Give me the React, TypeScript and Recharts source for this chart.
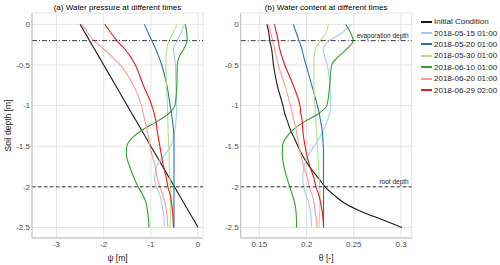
import React from 'react';
import { LineChart, Line, XAxis, YAxis, CartesianGrid, ReferenceLine } from 'recharts';

const depth = [0, -0.1, -0.2, -0.3, -0.4, -0.5, -0.75, -1, -1.1, -1.2, -1.3, -1.4, -1.5, -1.6, -1.75, -1.9, -2, -2.1, -2.2, -2.3, -2.4, -2.5];

const seriesNames = ['Initial Condition', '2018-05-15 01:00', '2018-05-20 01:00', '2018-05-30 01:00', '2018-06-10 01:00', '2018-06-20 01:00', '2018-06-29 02:00'];
const seriesColors = ['#1a1a1a', '#a6cee3', '#1f78b4', '#b2df8a', '#33a02c', '#fb9a99', '#e31a1c'];

// Water pressure psi [m]
const psiInit = [-2.5, -2.4, -2.3, -2.2, -2.1, -2.0, -1.75, -1.5, -1.4, -1.3, -1.2, -1.1, -1.0, -0.9, -0.75, -0.6, -0.5, -0.4, -0.3, -0.2, -0.1, 0];
const psi0515 = [-0.29, -0.36, -0.44, -0.52, -0.5, -0.48, -0.47, -0.45, -0.46, -0.47, -0.49, -0.52, -0.58, -0.7, -0.88, -0.92, -0.88, -0.81, -0.77, -0.74, -0.72, -0.72];
const psi0520 = [-1.14, -1.06, -0.98, -0.9, -0.83, -0.77, -0.66, -0.59, -0.56, -0.54, -0.52, -0.51, -0.51, -0.51, -0.51, -0.51, -0.51, -0.51, -0.51, -0.51, -0.51, -0.51];
const psi0530 = [-0.45, -0.53, -0.61, -0.66, -0.68, -0.68, -0.67, -0.65, -0.645, -0.64, -0.635, -0.63, -0.62, -0.615, -0.61, -0.595, -0.585, -0.58, -0.58, -0.58, -0.585, -0.59];
const psi0610 = [-0.27, -0.24, -0.23, -0.3, -0.4, -0.44, -0.45, -0.49, -0.63, -0.88, -1.18, -1.4, -1.51, -1.52, -1.45, -1.35, -1.27, -1.17, -1.1, -1.07, -1.05, -1.04];
const psi0620 = [-2.46, -2.34, -2.21, -2.01, -1.82, -1.65, -1.37, -1.2, -1.16, -1.12, -1.08, -1.05, -1.02, -0.98, -0.91, -0.86, -0.81, -0.75, -0.7, -0.67, -0.65, -0.64];
const psi0629 = [-1.98, -1.85, -1.72, -1.56, -1.43, -1.33, -1.16, -0.98, -0.93, -0.89, -0.87, -0.84, -0.81, -0.78, -0.73, -0.67, -0.64, -0.59, -0.56, -0.54, -0.53, -0.52];

// Water content theta [-]
const thInit = [0.158, 0.16, 0.161, 0.163, 0.164, 0.165, 0.169, 0.175, 0.177, 0.18, 0.183, 0.187, 0.191, 0.195, 0.203, 0.213, 0.2195, 0.229, 0.24, 0.257, 0.279, 0.301];
const th0515 = [0.2477, 0.238, 0.2247, 0.2175, 0.2195, 0.2219, 0.2247, 0.2255, 0.2245, 0.2215, 0.218, 0.2135, 0.208, 0.2025, 0.1975, 0.196, 0.197, 0.1995, 0.2025, 0.204, 0.205, 0.2054];
const th0520 = [0.186, 0.189, 0.192, 0.195, 0.197, 0.1995, 0.2055, 0.2115, 0.2135, 0.215, 0.2165, 0.2172, 0.2177, 0.218, 0.218, 0.218, 0.218, 0.218, 0.218, 0.218, 0.218, 0.218];
const th0530 = [0.223, 0.221, 0.2145, 0.2095, 0.208, 0.2078, 0.2078, 0.2089, 0.2095, 0.21, 0.2105, 0.211, 0.2115, 0.212, 0.2128, 0.2135, 0.214, 0.2142, 0.2142, 0.214, 0.2135, 0.2131];
const th0610 = [0.2413, 0.2465, 0.2494, 0.243, 0.2335, 0.2265, 0.2245, 0.2215, 0.2125, 0.1975, 0.1855, 0.178, 0.1745, 0.1743, 0.1761, 0.1795, 0.1822, 0.185, 0.1875, 0.1888, 0.1893, 0.1895];
const th0620 = [0.1595, 0.162, 0.164, 0.166, 0.168, 0.17, 0.177, 0.183, 0.185, 0.187, 0.189, 0.1905, 0.192, 0.194, 0.197, 0.201, 0.203, 0.206, 0.208, 0.209, 0.2105, 0.211];
const th0629 = [0.166, 0.168, 0.17, 0.1715, 0.174, 0.177, 0.186, 0.193, 0.194, 0.1955, 0.196, 0.197, 0.1985, 0.2, 0.2035, 0.208, 0.21, 0.213, 0.215, 0.2165, 0.2175, 0.218];

const psiTicks = [-3, -2, -1, 0];
const thetaTicks = [0.15, 0.2, 0.25, 0.3];
const depthTicks = [0, -0.5, -1, -1.5, -2, -2.5];
const evaporationDepth = -0.2;
const rootDepth = -2;

const psiSeries = [psiInit, psi0515, psi0520, psi0530, psi0610, psi0620, psi0629];
const thSeries = [thInit, th0515, th0520, th0530, th0610, th0620, th0629];

const buildRows = (series: number[][]) =>
  depth.map((d, i) => {
    const row: Record<string, number> = { depth: d };
    series.forEach((s, k) => {
      row['s' + k] = s[i];
    });
    return row;
  });

const psiRows = buildRows(psiSeries);
const thRows = buildRows(thSeries);

const FONT = '"Liberation Sans", Arial, Helvetica, sans-serif';
const BORDER = '#bdbdbd';
const GRID = '#e4e4e4';
const TICK = { fontSize: 8, fill: '#4d4d4d', fontFamily: FONT };

type PanelProps = {
  rows: Record<string, number>[];
  width: number;
  xDomain: [number, number];
  xTicks: number[];
  xLabel: string;
  showYLabel: boolean;
  annotate: boolean;
  rightMargin: number;
  yWidth: number;
};

function Panel({ rows, width, xDomain, xTicks, xLabel, showYLabel, annotate, rightMargin, yWidth }: PanelProps) {
  return (
    <LineChart
      width={width}
      height={265}
      layout="vertical"
      data={rows}
      margin={{ top: 13, right: rightMargin, bottom: 0, left: 0 }}
      style={{ fontFamily: FONT }}
    >
      <CartesianGrid stroke={GRID} strokeWidth={1} />
      <XAxis
        type="number"
        domain={xDomain}
        ticks={xTicks}
        allowDataOverflow
        height={27}
        tickSize={0}
        tickMargin={3}
        axisLine={{ stroke: BORDER }}
        tick={TICK}
        label={{ value: xLabel, position: 'insideBottom', offset: 4, fontSize: 8.5, fill: '#1a1a1a', fontFamily: FONT }}
      />
      <XAxis
        xAxisId="top"
        orientation="top"
        type="number"
        domain={xDomain}
        allowDataOverflow
        height={0}
        tick={false}
        tickLine={false}
        axisLine={{ stroke: BORDER }}
      />
      <YAxis
        type="number"
        dataKey="depth"
        domain={[-2.63, 0.14]}
        reversed
        ticks={depthTicks}
        allowDataOverflow
        width={yWidth}
        tickSize={0}
        tickMargin={2}
        axisLine={{ stroke: BORDER }}
        tick={TICK}
        label={
          showYLabel
            ? { value: 'Soil depth [m]', angle: -90, position: 'insideLeft', offset: 8, fontSize: 8.5, fill: '#1a1a1a', fontFamily: FONT, style: { textAnchor: 'middle' } }
            : undefined
        }
      />
      <YAxis
        yAxisId="right"
        orientation="right"
        type="number"
        domain={[-2.63, 0.14]}
        reversed
        allowDataOverflow
        width={0}
        tick={false}
        tickLine={false}
        axisLine={{ stroke: BORDER }}
      />
      {seriesColors.map((c, k) => (
        <Line
          key={k}
          dataKey={'s' + k}
          name={seriesNames[k]}
          stroke={c}
          strokeWidth={1.1}
          dot={false}
          type="monotone"
          isAnimationActive={false}
        />
      ))}
      <ReferenceLine
        y={evaporationDepth}
        stroke="#262626"
        strokeWidth={0.9}
        strokeDasharray="5 2 1 2"
        label={annotate ? { value: 'evaporation depth', position: 'insideBottomRight', offset: 3, fontSize: 6.5, fill: '#1a1a1a', fontFamily: FONT } : undefined}
      />
      <ReferenceLine
        y={rootDepth}
        stroke="#262626"
        strokeWidth={0.9}
        strokeDasharray="3.5 2.5"
        label={annotate ? { value: 'root depth', position: 'insideBottomRight', offset: 3, fontSize: 6.5, fill: '#1a1a1a', fontFamily: FONT } : undefined}
      />
    </LineChart>
  );
}

export default function App() {
  return (
    <div style={{ position: 'absolute', left: 0, top: 0, width: 500, height: 265, background: '#fff', fontFamily: FONT }}>
      <div style={{ position: 'absolute', left: 0, top: 0 }}>
        <Panel
          rows={psiRows}
          width={210}
          xDomain={[-3.52, 0.105]}
          xTicks={psiTicks}
          xLabel="ψ [m]"
          showYLabel
          annotate={false}
          rightMargin={7}
          yWidth={32}
        />
      </div>
      <div style={{ position: 'absolute', left: 210, top: 0 }}>
        <Panel
          rows={thRows}
          width={205}
          xDomain={[0.1303, 0.3113]}
          xTicks={thetaTicks}
          xLabel="θ [-]"
          showYLabel={false}
          annotate
          rightMargin={3.3}
          yWidth={30.7}
        />
      </div>
      <div style={{ position: 'absolute', left: 32, width: 171, top: 2, textAlign: 'center', fontSize: 8, lineHeight: '12px', color: '#000', whiteSpace: 'nowrap' }}>
        (a) Water pressure at different times
      </div>
      <div style={{ position: 'absolute', left: 240.7, width: 171, top: 2, textAlign: 'center', fontSize: 8, lineHeight: '12px', color: '#000', whiteSpace: 'nowrap' }}>
        (b) Water content at different times
      </div>
      <div style={{ position: 'absolute', left: 421, top: 16 }}>
        {seriesNames.map((n, k) => (
          <div key={k} style={{ display: 'flex', alignItems: 'center', height: 11.4 }}>
            <div style={{ width: 10.5, height: 2, background: seriesColors[k], marginRight: 2.5 }} />
            <span style={{ fontSize: 8, color: '#1a1a1a', whiteSpace: 'nowrap', lineHeight: '11px' }}>{n}</span>
          </div>
        ))}
      </div>
    </div>
  );
}
